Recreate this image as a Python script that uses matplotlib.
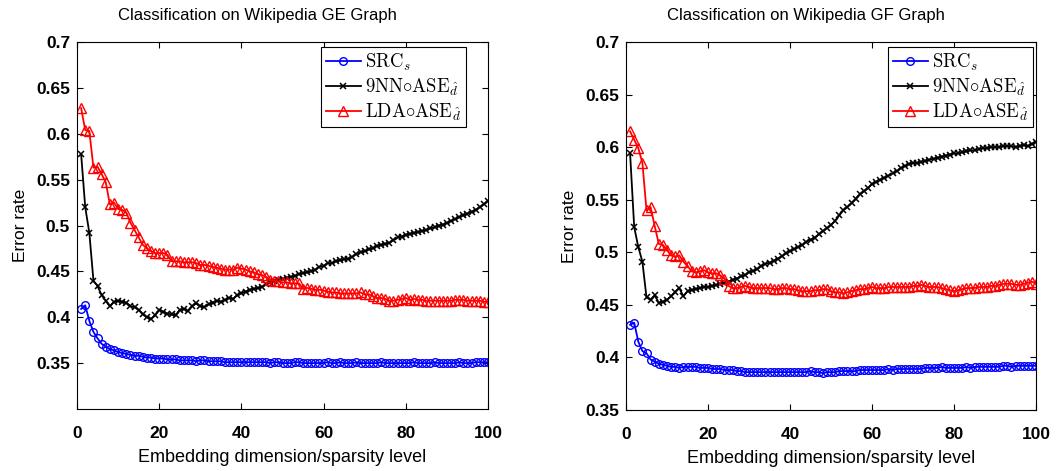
import matplotlib
matplotlib.use("Agg")
import matplotlib.pyplot as plt
import numpy as np

plt.rcParams['mathtext.fontset'] = 'cm'
plt.rcParams['font.family'] = ['Liberation Sans', 'DejaVu Sans']

dims = list(range(1, 101))

ge_src = [0.409, 0.413, 0.396, 0.384, 0.377, 0.371, 0.368, 0.365, 0.364, 0.362,
          0.361, 0.360, 0.359, 0.358, 0.358, 0.357, 0.356, 0.356, 0.355, 0.355,
          0.355, 0.354, 0.354, 0.354, 0.353, 0.353, 0.353, 0.353, 0.352, 0.353,
          0.353, 0.352, 0.352, 0.352, 0.352, 0.351, 0.351, 0.351, 0.351, 0.351,
          0.351, 0.351, 0.351, 0.351, 0.351, 0.351, 0.350, 0.351, 0.351, 0.350,
          0.350, 0.350, 0.351, 0.351, 0.350, 0.350, 0.350, 0.350, 0.350, 0.350,
          0.351, 0.350, 0.350, 0.351, 0.350, 0.350, 0.350, 0.351, 0.350, 0.350,
          0.350, 0.350, 0.350, 0.351, 0.350, 0.350, 0.350, 0.350, 0.350, 0.350,
          0.350, 0.351, 0.350, 0.350, 0.350, 0.350, 0.351, 0.350, 0.350, 0.350,
          0.350, 0.350, 0.351, 0.350, 0.350, 0.350, 0.351, 0.351, 0.351, 0.351]

ge_knn = [0.578, 0.520, 0.492, 0.440, 0.434, 0.424, 0.418, 0.412, 0.417, 0.418,
          0.417, 0.416, 0.412, 0.411, 0.408, 0.403, 0.400, 0.398, 0.402, 0.408,
          0.406, 0.404, 0.403, 0.402, 0.408, 0.409, 0.407, 0.412, 0.415, 0.412,
          0.411, 0.414, 0.416, 0.418, 0.417, 0.419, 0.421, 0.420, 0.424, 0.426,
          0.428, 0.430, 0.431, 0.432, 0.433, 0.436, 0.438, 0.440, 0.441, 0.442,
          0.443, 0.444, 0.445, 0.447, 0.448, 0.449, 0.450, 0.452, 0.455, 0.456,
          0.459, 0.459, 0.461, 0.462, 0.463, 0.464, 0.466, 0.469, 0.471, 0.472,
          0.474, 0.475, 0.478, 0.479, 0.480, 0.481, 0.484, 0.487, 0.488, 0.490,
          0.491, 0.492, 0.493, 0.494, 0.495, 0.497, 0.498, 0.500, 0.501, 0.503,
          0.505, 0.507, 0.509, 0.511, 0.513, 0.515, 0.517, 0.520, 0.523, 0.527]

ge_lda = [0.628, 0.604, 0.603, 0.563, 0.564, 0.556, 0.547, 0.523, 0.525, 0.518,
          0.517, 0.514, 0.503, 0.495, 0.487, 0.479, 0.475, 0.472, 0.470, 0.470,
          0.470, 0.468, 0.461, 0.461, 0.461, 0.460, 0.460, 0.460, 0.459, 0.457,
          0.457, 0.456, 0.455, 0.454, 0.453, 0.452, 0.452, 0.452, 0.454, 0.453,
          0.452, 0.450, 0.449, 0.447, 0.446, 0.444, 0.441, 0.440, 0.439, 0.438,
          0.438, 0.437, 0.437, 0.437, 0.431, 0.432, 0.431, 0.430, 0.430, 0.429,
          0.428, 0.427, 0.427, 0.426, 0.426, 0.426, 0.426, 0.426, 0.427, 0.425,
          0.425, 0.423, 0.421, 0.421, 0.420, 0.418, 0.418, 0.419, 0.420, 0.421,
          0.419, 0.420, 0.419, 0.419, 0.418, 0.418, 0.418, 0.418, 0.418, 0.418,
          0.418, 0.419, 0.419, 0.419, 0.418, 0.418, 0.418, 0.418, 0.417, 0.417]

gf_src = [0.431, 0.433, 0.415, 0.406, 0.404, 0.398, 0.396, 0.394, 0.393, 0.392,
          0.391, 0.391, 0.390, 0.391, 0.391, 0.391, 0.391, 0.390, 0.390, 0.390,
          0.389, 0.389, 0.389, 0.388, 0.388, 0.388, 0.387, 0.387, 0.386, 0.386,
          0.386, 0.386, 0.386, 0.386, 0.386, 0.386, 0.386, 0.386, 0.386, 0.386,
          0.386, 0.386, 0.386, 0.386, 0.387, 0.386, 0.386, 0.385, 0.386, 0.386,
          0.386, 0.387, 0.387, 0.387, 0.387, 0.387, 0.388, 0.388, 0.388, 0.388,
          0.388, 0.388, 0.388, 0.389, 0.388, 0.389, 0.389, 0.389, 0.389, 0.389,
          0.389, 0.389, 0.390, 0.390, 0.390, 0.390, 0.391, 0.390, 0.390, 0.390,
          0.390, 0.390, 0.391, 0.390, 0.391, 0.391, 0.391, 0.391, 0.391, 0.391,
          0.391, 0.392, 0.392, 0.391, 0.392, 0.392, 0.392, 0.392, 0.392, 0.392]

gf_knn = [0.594, 0.524, 0.505, 0.491, 0.457, 0.455, 0.459, 0.452, 0.453, 0.455,
          0.458, 0.462, 0.466, 0.458, 0.463, 0.464, 0.465, 0.466, 0.467, 0.467,
          0.468, 0.469, 0.470, 0.471, 0.472, 0.474, 0.475, 0.477, 0.478, 0.481,
          0.482, 0.484, 0.487, 0.489, 0.490, 0.492, 0.494, 0.496, 0.499, 0.501,
          0.503, 0.505, 0.507, 0.510, 0.512, 0.514, 0.517, 0.520, 0.523, 0.526,
          0.530, 0.535, 0.540, 0.543, 0.547, 0.551, 0.555, 0.558, 0.561, 0.565,
          0.567, 0.569, 0.571, 0.573, 0.575, 0.577, 0.580, 0.582, 0.584, 0.585,
          0.585, 0.586, 0.587, 0.588, 0.589, 0.590, 0.591, 0.592, 0.593, 0.594,
          0.594, 0.595, 0.596, 0.597, 0.597, 0.598, 0.599, 0.599, 0.600, 0.600,
          0.600, 0.601, 0.601, 0.601, 0.600, 0.601, 0.602, 0.601, 0.603, 0.605]

gf_lda = [0.615, 0.607, 0.599, 0.585, 0.540, 0.543, 0.525, 0.508, 0.507, 0.502,
          0.497, 0.496, 0.497, 0.491, 0.487, 0.482, 0.481, 0.482, 0.483, 0.481,
          0.480, 0.480, 0.478, 0.475, 0.468, 0.466, 0.466, 0.467, 0.468, 0.467,
          0.466, 0.466, 0.466, 0.466, 0.466, 0.465, 0.465, 0.466, 0.466, 0.465,
          0.465, 0.464, 0.463, 0.463, 0.463, 0.464, 0.464, 0.465, 0.465, 0.463,
          0.462, 0.462, 0.461, 0.462, 0.463, 0.464, 0.465, 0.465, 0.466, 0.467,
          0.466, 0.466, 0.466, 0.467, 0.467, 0.467, 0.467, 0.467, 0.467, 0.468,
          0.468, 0.469, 0.468, 0.467, 0.467, 0.467, 0.466, 0.465, 0.464, 0.463,
          0.464, 0.465, 0.466, 0.466, 0.466, 0.467, 0.467, 0.467, 0.468, 0.468,
          0.469, 0.470, 0.470, 0.470, 0.469, 0.469, 0.470, 0.471, 0.472, 0.470]

titles = ["Classification on Wikipedia GE Graph", "Classification on Wikipedia GF Graph"]
legend_labels = [r"$\mathrm{SRC}_s$", r"$\mathrm{9NN}{\circ}\mathrm{ASE}_{\hat{d}}$",
                 r"$\mathrm{LDA}{\circ}\mathrm{ASE}_{\hat{d}}$"]
xticks = [0, 20, 40, 60, 80, 100]
yticks = [0.35, 0.4, 0.45, 0.5, 0.55, 0.6, 0.65, 0.7]
ytick_labels = ["0.35", "0.4", "0.45", "0.5", "0.55", "0.6", "0.65", "0.7"]
ylims = [(0.3, 0.7), (0.35, 0.7)]
xlabel = "Embedding dimension/sparsity level"
ylabel = "Error rate"

W, H = 1060, 471
fig = plt.figure(figsize=(W / 100, H / 100), dpi=100)

axes_px = [(77, 42, 488, 409), (626, 42, 1036, 410)]
legend_px = [(466, 47), (1033, 47)]
panels = [(ge_src, ge_knn, ge_lda), (gf_src, gf_knn, gf_lda)]

for i, (l, t, r, b) in enumerate(axes_px):
    ax = fig.add_axes([l / W, 1 - b / H, (r - l) / W, (b - t) / H])
    src, knn, lda = panels[i]
    ax.plot(dims, src, color='#0000ff', lw=1.3, marker='o', ms=5.5, mfc='none',
            mew=1.0, label=legend_labels[0])
    ax.plot(dims, knn, color='black', lw=1.3, marker='x', ms=5, mew=1.1,
            label=legend_labels[1])
    ax.plot(dims, lda, color='#ff0000', lw=1.3, marker='^', ms=6.5, mfc='none',
            mew=1.0, label=legend_labels[2])
    ax.set_xlim(0, 100)
    ax.set_ylim(*ylims[i])
    ax.set_xticks(xticks)
    ax.set_xticklabels([str(v) for v in xticks])
    ax.set_yticks(yticks)
    ax.set_yticklabels(ytick_labels)
    ax.tick_params(direction='in', top=True, right=True, length=4, width=0.8,
                   labelsize=12.5, pad=5)
    ax.tick_params(axis='x', pad=12)
    for lab in ax.get_xticklabels() + ax.get_yticklabels():
        lab.set_fontweight('bold')
    for sp in ax.spines.values():
        sp.set_linewidth(0.8)
    ax.set_xlabel(xlabel, fontsize=13, labelpad=6)
    ax.set_ylabel(ylabel, fontsize=12.5, labelpad=6)
    ax.text(0.438, 1.073, titles[i], transform=ax.transAxes, ha='center',
            va='center', fontsize=12)
    lx, ly = legend_px[i]
    ax.legend(loc='upper right', bbox_to_anchor=(lx / W, 1 - ly / H),
              bbox_transform=fig.transFigure, borderaxespad=0, fancybox=False,
              edgecolor='black', framealpha=1, fontsize=13.5, handlelength=1.9,
              handletextpad=0.2, labelspacing=0.2, borderpad=0.25)
    ax.get_legend().get_frame().set_linewidth(0.8)

fig.savefig("out.png", dpi=100)
